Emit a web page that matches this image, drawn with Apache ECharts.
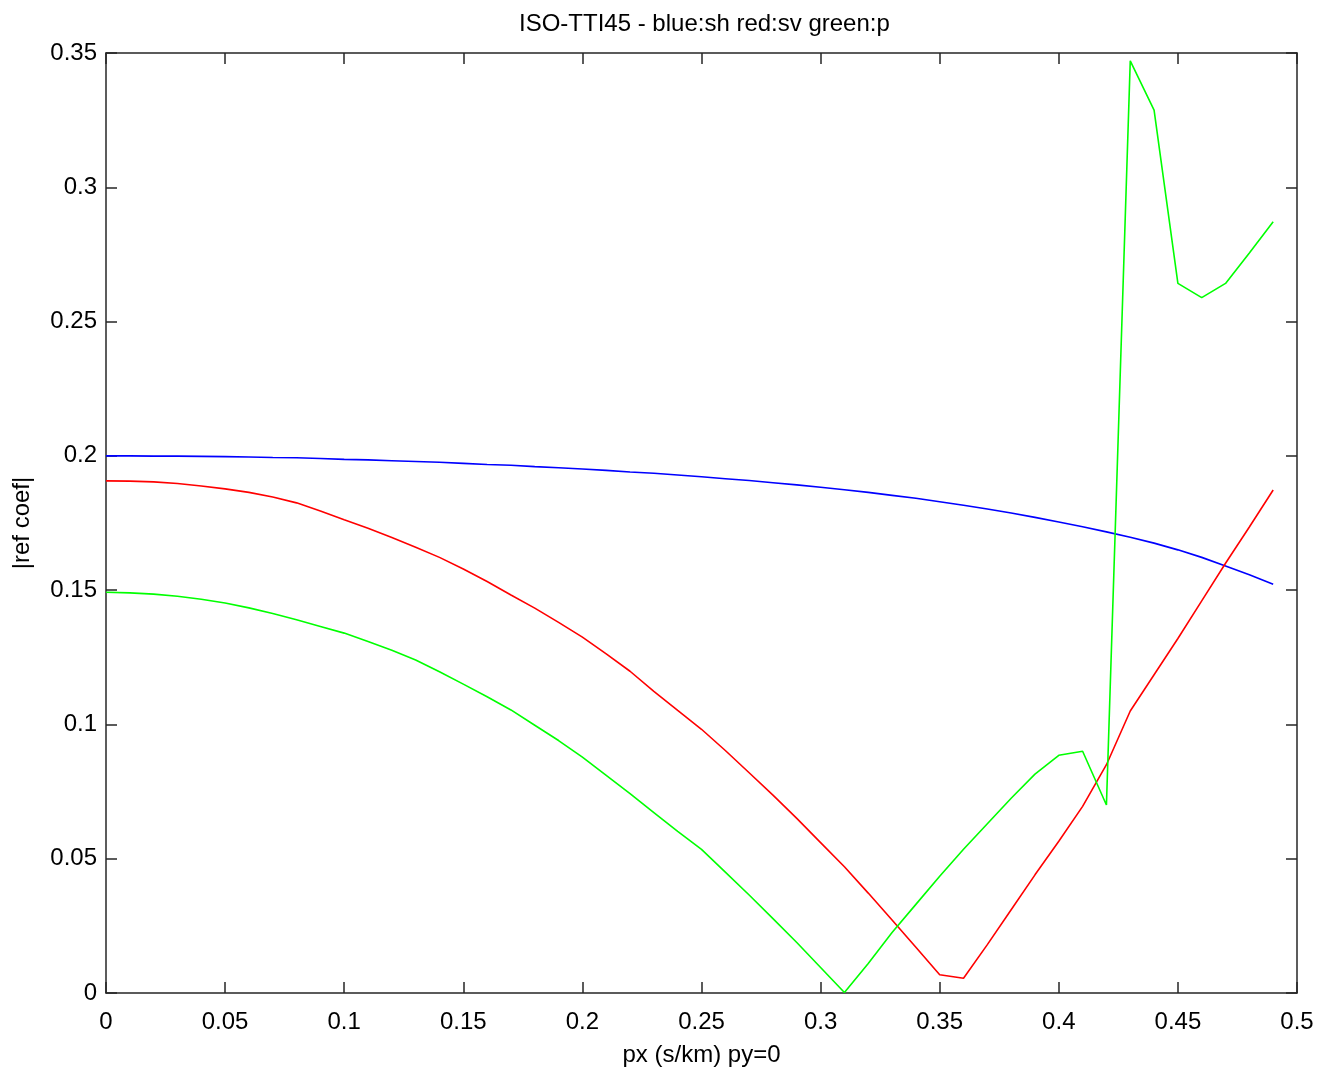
<!DOCTYPE html>
<html>
<head>
<meta charset="utf-8">
<script src="https://cdn.jsdelivr.net/npm/echarts@6/dist/echarts.min.js"></script>
<style>
html,body{margin:0;padding:0;background:#fff;}
#chart{width:1322px;height:1077px;}
</style>
</head>
<body>
<div id="chart"></div>
<script>
const titleText = 'ISO-TTI45 - blue:sh red:sv green:p';
const xAxisName = 'px (s/km) py=0';
const yAxisName = '|ref coef|';

const px = [0.00,0.01,0.02,0.03,0.04,0.05,0.06,0.07,0.08,0.09,
            0.10,0.11,0.12,0.13,0.14,0.15,0.16,0.17,0.18,0.19,
            0.20,0.21,0.22,0.23,0.24,0.25,0.26,0.27,0.28,0.29,
            0.30,0.31,0.32,0.33,0.34,0.35,0.36,0.37,0.38,0.39,
            0.40,0.41,0.42,0.43,0.44,0.45,0.46,0.47,0.48,0.49];

const sh = [0.2000,0.2000,0.1999,0.1999,0.1998,0.1997,0.1996,0.1994,0.1993,0.1990,
            0.1987,0.1985,0.1982,0.1979,0.1976,0.1972,0.1968,0.1965,0.1960,0.1956,
            0.1951,0.1946,0.1940,0.1935,0.1929,0.1922,0.1915,0.1908,0.1900,0.1892,
            0.1883,0.1874,0.1864,0.1853,0.1842,0.1829,0.1816,0.1802,0.1787,0.1771,
            0.1754,0.1736,0.1717,0.1697,0.1675,0.1650,0.1622,0.1590,0.1557,0.1522];

const sv = [0.1907,0.1906,0.1903,0.1897,0.1888,0.1877,0.1864,0.1847,0.1825,0.1795,
            0.1762,0.1730,0.1696,0.1660,0.1622,0.1579,0.1532,0.1482,0.1433,0.1380,
            0.1325,0.1263,0.1198,0.1123,0.1052,0.0982,0.0903,0.0820,0.0737,0.0650,
            0.0560,0.0470,0.0372,0.0272,0.0170,0.0068,0.0055,0.0180,0.0310,0.0440,
            0.0565,0.0695,0.0850,0.1050,0.1185,0.1320,0.1460,0.1600,0.1735,0.1873];

const pp = [0.1492,0.1490,0.1485,0.1477,0.1466,0.1452,0.1434,0.1413,0.1390,0.1365,
            0.1340,0.1309,0.1276,0.1240,0.1196,0.1150,0.1103,0.1054,0.0997,0.0940,
            0.0878,0.0810,0.0742,0.0672,0.0602,0.0535,0.0450,0.0365,0.0277,0.0188,
            0.0095,0.0002,0.0110,0.0225,0.0330,0.0435,0.0535,0.0630,0.0725,0.0815,
            0.0885,0.0900,0.0700,0.3471,0.3287,0.2642,0.2589,0.2642,0.2755,0.2872];

const xTicks = {min:0, max:0.5, interval:0.05};
const yTicks = {min:0, max:0.35, interval:0.05};

function pairs(ys){ return px.map((x,i)=>[x, ys[i]]); }
const fmt = v => String(parseFloat(v.toFixed(2)));
const FONT = '"Liberation Sans", Arial, sans-serif';
const FS = 24;
const AX = '#262626';

const chart = echarts.init(document.getElementById('chart'), null, {renderer:'canvas'});
const baseAxis = {
  type:'value',
  axisLine:{show:true, onZero:false, lineStyle:{color:AX, width:1.5}},
  axisTick:{show:true, inside:true, length:11, lineStyle:{color:AX, width:1.5}},
  splitLine:{show:false},
};
chart.setOption({
  animation:false,
  backgroundColor:'#ffffff',
  title:{text:titleText, left:514, top:7,
    textStyle:{fontFamily:FONT, fontWeight:'normal', fontSize:FS, color:'#000'}},
  grid:{left:106, right:25, top:53, bottom:84, containLabel:false},
  xAxis:[
    Object.assign({}, baseAxis, {position:'bottom', min:xTicks.min, max:xTicks.max, interval:xTicks.interval,
      name:xAxisName, nameLocation:'middle', nameGap:50,
      nameTextStyle:{fontFamily:FONT, fontSize:FS, color:'#000'},
      axisLabel:{show:true, margin:17, formatter:fmt, fontFamily:FONT, fontSize:FS, color:'#000'}}),
    Object.assign({}, baseAxis, {position:'top', min:xTicks.min, max:xTicks.max, interval:xTicks.interval,
      axisLabel:{show:false}})
  ],
  yAxis:[
    Object.assign({}, baseAxis, {position:'left', min:yTicks.min, max:yTicks.max, interval:yTicks.interval,
      name:yAxisName, nameLocation:'middle', nameGap:72, nameRotate:90,
      nameTextStyle:{fontFamily:FONT, fontSize:FS, color:'#000'},
      axisLabel:{show:true, margin:9, formatter:fmt, fontFamily:FONT, fontSize:FS, color:'#000'}}),
    Object.assign({}, baseAxis, {position:'right', min:yTicks.min, max:yTicks.max, interval:yTicks.interval,
      axisLabel:{show:false}})
  ],
  series:[
    {name:'sh', type:'line', data:pairs(sh), showSymbol:false, symbol:'none',
      lineStyle:{color:'#0000ff', width:1.6}, itemStyle:{color:'#0000ff'}, z:3},
    {name:'sv', type:'line', data:pairs(sv), showSymbol:false, symbol:'none',
      lineStyle:{color:'#ff0000', width:1.6}, itemStyle:{color:'#ff0000'}, z:3},
    {name:'p', type:'line', data:pairs(pp), showSymbol:false, symbol:'none',
      lineStyle:{color:'#00ff00', width:1.6}, itemStyle:{color:'#00ff00'}, z:3}
  ]
});
</script>
</body>
</html>
